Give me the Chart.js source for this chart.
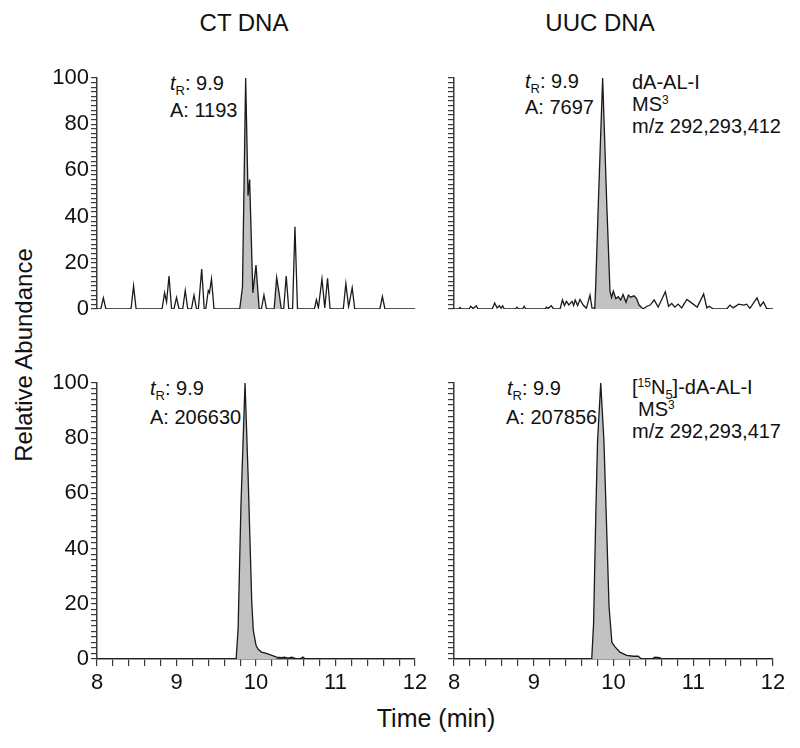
<!DOCTYPE html>
<html>
<head>
<meta charset="utf-8">
<script src="https://cdn.jsdelivr.net/npm/chart.js@4.4.1/dist/chart.umd.min.js"></script>
<style>
  body { margin: 0; background: #fff; }
  #fig { position: relative; width: 800px; height: 748px; font-family: "Liberation Sans", Arial, sans-serif; color: #111; overflow: hidden; }
  #fig canvas { position: absolute; }
  .txt { position: absolute; font-size: 20px; line-height: 26px; white-space: nowrap; }
  .txt sub { font-size: 13px; vertical-align: -5px; line-height: 0; }
  .txt sup { font-size: 12px; vertical-align: 7px; line-height: 0; }
  .title { position: absolute; font-size: 24px; line-height: 30px; white-space: nowrap; transform: translateX(-50%); }
  .ylab { position: absolute; font-size: 24px; line-height: 30px; white-space: nowrap; transform: translate(-50%, -50%) rotate(-90deg); }
</style>
</head>
<body>
<div id="fig">
  <div class="title" style="left:244px; top:8px;">CT DNA</div>
  <div class="title" style="left:600px; top:8px;">UUC DNA</div>
  <div class="ylab" style="left:24px; top:355px;">Relative Abundance</div>
  <div class="title" style="left:436px; top:703px; font-size:25px;">Time (min)</div>

  <div class="txt" style="left:170px; top:70px;"><i>t</i><sub>R</sub>: 9.9</div>
  <div class="txt" style="left:170px; top:97px;">A: 1193</div>

  <div class="txt" style="left:525px; top:68px;"><i>t</i><sub>R</sub>: 9.9</div>
  <div class="txt" style="left:525px; top:94px;">A: 7697</div>
  <div class="txt" style="left:632px; top:69px;">dA-AL-I</div>
  <div class="txt" style="left:632px; top:91px;">MS<sup>3</sup></div>
  <div class="txt" style="left:632px; top:113px;">m/z 292,293,412</div>

  <div class="txt" style="left:150px; top:375px;"><i>t</i><sub>R</sub>: 9.9</div>
  <div class="txt" style="left:150px; top:404px;">A: 206630</div>

  <div class="txt" style="left:507px; top:375px;"><i>t</i><sub>R</sub>: 9.9</div>
  <div class="txt" style="left:506px; top:404px;">A: 207856</div>
  <div class="txt" style="left:632px; top:374px;">[<sup>15</sup>N<sub>5</sub>]-dA-AL-I</div>
  <div class="txt" style="left:638px; top:396px;">MS<sup>3</sup></div>
  <div class="txt" style="left:632px; top:418px;">m/z 292,293,417</div>
</div>
<script>
// CT DNA, dA-AL-I trace (time in min, relative abundance in %)
const ctTime  = [8.0, 8.048, 8.08, 8.112, 8.428, 8.46, 8.492, 8.818, 8.85, 8.875, 8.906, 8.938, 8.968, 9.0, 9.032, 9.078, 9.11, 9.142, 9.188, 9.22, 9.252, 9.275, 9.317, 9.349, 9.368, 9.40, 9.415, 9.44, 9.472, 9.795, 9.83, 9.87, 9.90, 9.92, 9.96, 10.0, 10.04, 10.068, 10.10, 10.132, 10.228, 10.26, 10.29, 10.318, 10.348, 10.38, 10.412, 10.46, 10.49, 10.522, 10.735, 10.76, 10.785, 10.83, 10.865, 10.90, 10.932, 11.098, 11.13, 11.165, 11.21, 11.242, 11.558, 11.59, 11.622, 12.0];
const ctAbund = [0, 0, 4.8, 0, 0, 10, 0, 0, 7, 3, 14.3, 0, 0, 5, 0, 0, 8, 0, 0, 6, 0, 0, 17.3, 0, 0, 8, 7, 13, 0, 0, 9.5, 100, 49, 56, 7, 19, 0, 0, 6, 0, 0, 13.6, 7, 0, 0, 14.3, 0, 0, 35.6, 0, 0, 4, 0.5, 13, 0.5, 13.3, 0, 0, 11, 1, 9.2, 0, 0, 5.4, 0, 0];
const ctFill  = [[9.79, 10.045], [10.22, 10.32]];

// UUC DNA, dA-AL-I trace
const uucTime  = [8.0, 8.06, 8.075, 8.09, 8.19, 8.21, 8.24, 8.28, 8.30, 8.48, 8.51, 8.54, 8.57, 8.59, 8.61, 8.63, 8.77, 8.79, 8.81, 8.86, 8.88, 8.90, 9.14, 9.16, 9.18, 9.22, 9.25, 9.33, 9.36, 9.385, 9.41, 9.44, 9.48, 9.50, 9.52, 9.55, 9.58, 9.62, 9.66, 9.705, 9.73, 9.765, 9.777, 9.81, 9.864, 9.915, 9.956, 9.975, 9.998, 10.03, 10.06, 10.09, 10.12, 10.157, 10.186, 10.215, 10.257, 10.29, 10.32, 10.35, 10.37, 10.42, 10.46, 10.51, 10.56, 10.65, 10.69, 10.73, 10.77, 10.81, 10.855, 10.92, 11.0, 11.05, 11.13, 11.17, 11.20, 11.25, 11.42, 11.46, 11.50, 11.57, 11.63, 11.67, 11.71, 11.80, 11.84, 11.88, 11.92, 11.96, 12.0];
const uucAbund = [0, 0, 0.6, 0, 0, 1.2, 0.2, 1.4, 0, 0, 2.6, 0.5, 1.4, 0.3, 1.4, 0, 0, 0.8, 0, 0, 1.2, 0, 0, 0.8, 0.2, 1.4, 0, 0, 3.9, 1.5, 3.3, 1.8, 3.3, 1.5, 3.9, 1.5, 4.1, 1.7, 0.3, 6, 0.5, 0.3, 10, 46, 100, 46, 7.7, 5, 7.7, 4.5, 5.3, 3.9, 6.3, 2.9, 6.0, 5.1, 5.7, 4.5, 1.7, 0.8, 0, 1.2, 1.7, 3.9, 0.8, 7.5, 1.2, 2.4, 0.8, 2.1, 0.5, 4.1, 2.1, 0.8, 6.5, 0.5, 1.2, 0, 0, 1.7, 0.5, 2.1, 1.7, 2.1, 0.3, 4.8, 1.2, 3.0, 0.3, 0, 0];
const uucFill  = [[9.76, 10.36]];

// CT DNA, [15N5]-dA-AL-I internal standard
const ctStdTime  = [8.0, 9.75, 9.775, 9.81, 9.862, 9.90, 9.946, 9.966, 10.0, 10.03, 10.07, 10.13, 10.2, 10.26, 10.32, 10.36, 10.40, 10.45, 10.50, 10.55, 10.59, 10.62, 12.0];
const ctStdAbund = [0, 0, 11, 55, 100, 67, 21, 10.4, 5, 3.4, 2.5, 2, 1.3, 0.7, 0.5, 0.7, 0.3, 0.7, 0.1, 0, 0.7, 0, 0];
const ctStdFill  = [[9.74, 10.27]];

// UUC DNA, [15N5]-dA-AL-I internal standard
const uucStdTime  = [8.0, 9.727, 9.75, 9.78, 9.80, 9.84, 9.88, 9.906, 9.944, 9.98, 10.02, 10.08, 10.165, 10.25, 10.31, 10.35, 10.48, 10.52, 10.58, 10.60, 12.0];
const uucStdAbund = [0, 0, 12.7, 55, 79, 100, 79, 55, 19, 6, 4.4, 2.5, 1.3, 1, 1, 0, 0, 0.7, 0.5, 0, 0];
const uucStdFill  = [[9.72, 10.355]];

const timeRange = [8, 12];
const abundRange = [0, 100];

Chart.defaults.font.family = '"Liberation Sans", Arial, sans-serif';
Chart.defaults.color = '#111';

const axisColor = '#3a3a3a';

function panel(times, abund, fillWins, area, showYLabels, showX) {
    const canvas = document.createElement('canvas');
    const w = area.right - area.left + 80;
    const h = area.bottom - area.top + 20 + (showX ? 45 : 20);
    canvas.width = w;
    canvas.height = h;
    canvas.style.left = (area.left - 60) + 'px';
    canvas.style.top = (area.top - 20) + 'px';
    document.getElementById('fig').appendChild(canvas);

    const points = times.map((t, i) => ({ x: t, y: abund[i] }));
    // only the peak windows get the grey fill
    const filled = points.map(p => ({
        x: p.x,
        y: fillWins.some(win => p.x >= win[0] && p.x <= win[1]) ? p.y : null
    }));

    return new Chart(canvas.getContext('2d'), {
        type: 'line',
        data: {
            datasets: [{
                data: points,
                borderColor: '#1a1a1a',
                borderWidth: 1.3,
                fill: false
            }, {
                data: filled,
                borderWidth: 0,
                borderColor: 'rgba(0,0,0,0)',
                backgroundColor: '#c2c2c2',
                fill: 'origin',
                spanGaps: false
            }]
        },
        options: {
            responsive: false,
            animation: false,
            devicePixelRatio: 1,
            layout: { padding: { left: 0, top: 20, right: 20, bottom: showX ? 0 : 20 } },
            plugins: { legend: { display: false }, tooltip: { enabled: false } },
            elements: { point: { radius: 0 }, line: { tension: 0 } },
            scales: {
                x: {
                    type: 'linear',
                    min: timeRange[0],
                    max: timeRange[1],
                    display: showX,
                    afterFit: s => { s.height = 45; },
                    grid: { drawOnChartArea: false, tickLength: 7, color: axisColor, lineWidth: 1.2 },
                    border: { color: axisColor, width: 1.5 },
                    ticks: {
                        stepSize: 0.2,
                        autoSkip: false,
                        maxRotation: 0,
                        padding: 4,
                        font: { size: 22 },
                        callback: v => Math.abs(v - Math.round(v)) < 1e-6 ? String(Math.round(v)) : ''
                    }
                },
                y: {
                    type: 'linear',
                    min: abundRange[0],
                    max: abundRange[1],
                    afterFit: s => { s.width = 60; },
                    grid: { drawOnChartArea: false, tickLength: 6, color: axisColor, lineWidth: 1.2 },
                    border: { color: axisColor, width: 1.5 },
                    ticks: {
                        stepSize: 2,
                        autoSkip: false,
                        padding: 2,
                        font: { size: 22 },
                        callback: v => (showYLabels && Math.round(v) % 20 === 0) ? String(Math.round(v)) : ''
                    }
                }
            }
        }
    });
}

panel(ctTime, ctAbund, ctFill, { left: 97, right: 415, top: 78, bottom: 354 }, true, false);
panel(uucTime, uucAbund, uucFill, { left: 454, right: 773, top: 78, bottom: 354 }, false, false);
panel(ctStdTime, ctStdAbund, ctStdFill, { left: 97, right: 415, top: 383, bottom: 659 }, true, true);
panel(uucStdTime, uucStdAbund, uucStdFill, { left: 454, right: 773, top: 383, bottom: 659 }, false, true);
</script>
</body>
</html>
